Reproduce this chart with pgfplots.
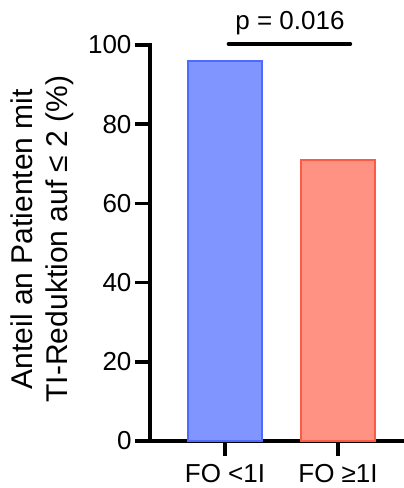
\documentclass[border=0pt]{standalone}
\usepackage{fontspec}
\setmainfont{Liberation Sans}
\usepackage{pgfplots}
\pgfplotsset{compat=1.18}
\definecolor{bluefill}{HTML}{8095FF}
\definecolor{blueedge}{HTML}{4F6BFF}
\definecolor{redfill}{HTML}{FF9282}
\definecolor{rededge}{HTML}{FF5A45}
\begin{document}
\begin{tikzpicture}
\begin{axis}[
  scale only axis, width=254pt, height=396pt,
  at={(0pt,0pt)}, anchor=south west,
  xmin=-0.664, xmax=1.584, ymin=0, ymax=100,
  axis lines=left, axis line style={-, line width=3.5pt, line cap=rect},
  tick style={line width=3.5pt, black}, major tick length=15pt, tick align=outside,
  ytick={0,20,40,60,80,100}, xtick={0,1},
  xticklabels={FO <1I, FO ≥1I},
  /pgf/number format/assume math mode=true,
  tick label style={font=\fontsize{26}{30}\selectfont},
  yticklabel style={xshift=0pt},
  xticklabel style={yshift=-5pt},
  ylabel={Anteil an Patienten mit\\TI-Reduktion auf ≤ 2 (\%)},
  ylabel style={align=center, font=\fontsize{30}{35}\selectfont,
    at={(axis description cs:-0.287,0.51)}, anchor=south},
  bar shift=0pt, clip=false,
]
\addplot[ybar, bar width=0.655, fill=bluefill, draw=blueedge, line width=2pt] coordinates {(0,96)};
\addplot[ybar, bar width=0.655, fill=redfill, draw=rededge, line width=2pt] coordinates {(1,71)};
\draw[line width=3.5pt, line cap=round] (axis cs:0.03,100.3) -- (axis cs:1.11,100.3);
\node[font=\fontsize{26}{30}\selectfont, anchor=base] at (axis cs:0.575,104) {p = 0.016};
\end{axis}
\pgfresetboundingbox
\path[use as bounding box] (-150pt,-47pt) rectangle (254pt,441pt);
\end{tikzpicture}
\end{document}
